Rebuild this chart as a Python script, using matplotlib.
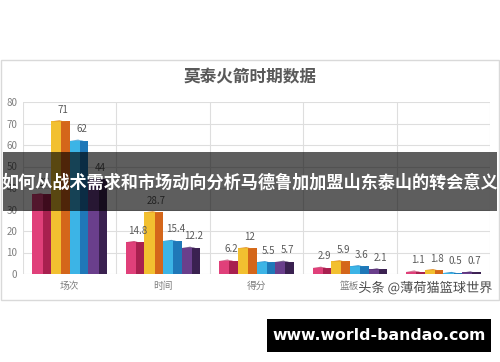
import matplotlib.pyplot as plt
import matplotlib.patheffects as pe
from matplotlib.patches import Rectangle, Polygon
import numpy as np

plt.rcParams['font.family'] = ['Noto Sans CJK SC', 'DejaVu Sans']

categories = ['场次', '时间', '得分', '篮板', '助攻']
s_pink = [37, 14.8, 6.2, 2.9, 1.1]
s_yellow = [71, 28.7, 12, 5.9, 1.8]
s_blue = [62, 15.4, 5.5, 3.6, 0.5]
s_purple = [44, 12.2, 5.7, 2.1, 0.7]
labels_pink = ['37', '14.8', '6.2', '2.9', '1.1']
labels_yellow = ['71', '28.7', '12', '5.9', '1.8']
labels_blue = ['62', '15.4', '5.5', '3.6', '0.5']
labels_purple = ['44', '12.2', '5.7', '2.1', '0.7']
yticks = [0, 10, 20, 30, 40, 50, 60, 70, 80]

title = '莫泰火箭时期数据'
banner = '如何从战术需求和市场动向分析马德鲁加加盟山东泰山的转会意义'
watermark = '头条 @薄荷猫篮球世界'
site = 'www.world-bandao.com'

# (front, side, top)
colors = [('#e0407a', '#a8204f', '#c02e60'),
          ('#f2c030', '#d4661a', '#e08a20'),
          ('#3cb4e6', '#1f78b8', '#2a90cc'),
          ('#6a3f8c', '#3a2150', '#4e2d6a')]

fig = plt.figure(figsize=(5, 3.62), dpi=100)

# chart panel border
fig.patches.append(Rectangle((0.002, 1 - 300 / 362), 0.996, 240 / 362,
                             transform=fig.transFigure, facecolor='white',
                             edgecolor='#d9d9d9', lw=1, zorder=-5))

ax = fig.add_axes([23 / 500, 1 - 274 / 362, 467 / 500, 172 / 362])
ax.set_zorder(1)
ax.set_facecolor('none')
ax.set_xlim(-0.5, 4.5)
ax.set_ylim(0, 80)
ax.set_yticks(yticks)
ax.set_xticks(range(len(categories)))
ax.set_xticklabels(categories)
ax.tick_params(axis='both', length=0, labelsize=7, colors='#7f7f7f')
ax.tick_params(axis='y', pad=4)
ax.tick_params(axis='x', pad=5)
for s in ax.spines.values():
    s.set_visible(False)
for y in yticks:
    ax.axhline(y, color='#dedede', lw=0.8, zorder=0)
for xb in np.arange(-0.5, 5, 1):
    ax.axvline(xb, color='#dedede', lw=0.8, zorder=0)

x = np.arange(len(categories))
w = 0.2
series = [s_pink, s_yellow, s_blue, s_purple]
labs = [labels_pink, labels_yellow, labels_blue, labels_purple]
offsets = [-0.3, -0.1, 0.1, 0.3]
front_frac = 0.55
cap = 1.6
for vals, lab, off, (cf, cs, ct) in zip(series, labs, offsets, colors):
    xl = x + off - w / 2
    ax.bar(x + off, vals, w, color=cs, zorder=3, lw=0)
    ax.bar(xl + w * front_frac / 2, vals, w * front_frac, color=cf, zorder=4, lw=0)
    for xi, v, t in zip(xl, vals, lab):
        ax.add_patch(Polygon([(xi, v), (xi + w * front_frac, v),
                              (xi + w, v - cap * 0.4), (xi + w * 0.45, v + cap * 0.3)],
                             closed=True, facecolor=ct, lw=0, zorder=5))
        ax.text(xi + w / 2 + 0.03, v + 3, t, ha='center', va='bottom',
                fontsize=7, color='#595959', zorder=6)

fig.text(0.5, 1 - 76 / 362, title, ha='center', va='center', fontsize=12,
         fontweight='bold', color='#595959')

# dark overlay banner
fig.patches.append(Rectangle((3 / 500, 1 - 211 / 362), 494 / 500, 59 / 362,
                             transform=fig.transFigure, facecolor='black',
                             alpha=0.63, lw=0, zorder=10))
fig.text(0.5, 1 - 183 / 362, banner, ha='center', va='center', fontsize=12.3,
         fontweight='bold', color='white', zorder=11)

fig.text(493 / 500, 1 - 288 / 362, watermark, ha='right', va='center',
         fontsize=9.5, color='#4a4a4a', zorder=11,
         path_effects=[pe.withStroke(linewidth=3, foreground='white')])

fig.patches.append(Rectangle((267 / 500, 1 - 352 / 362), 224 / 500, 33 / 362,
                             transform=fig.transFigure, facecolor='black',
                             lw=0, zorder=10))
fig.text(379 / 500, 1 - 336 / 362, site, ha='center', va='center',
         fontsize=11.3, fontweight='bold', color='white', zorder=11,
         family=['DejaVu Sans'])

fig.savefig('out.png', dpi=100)
